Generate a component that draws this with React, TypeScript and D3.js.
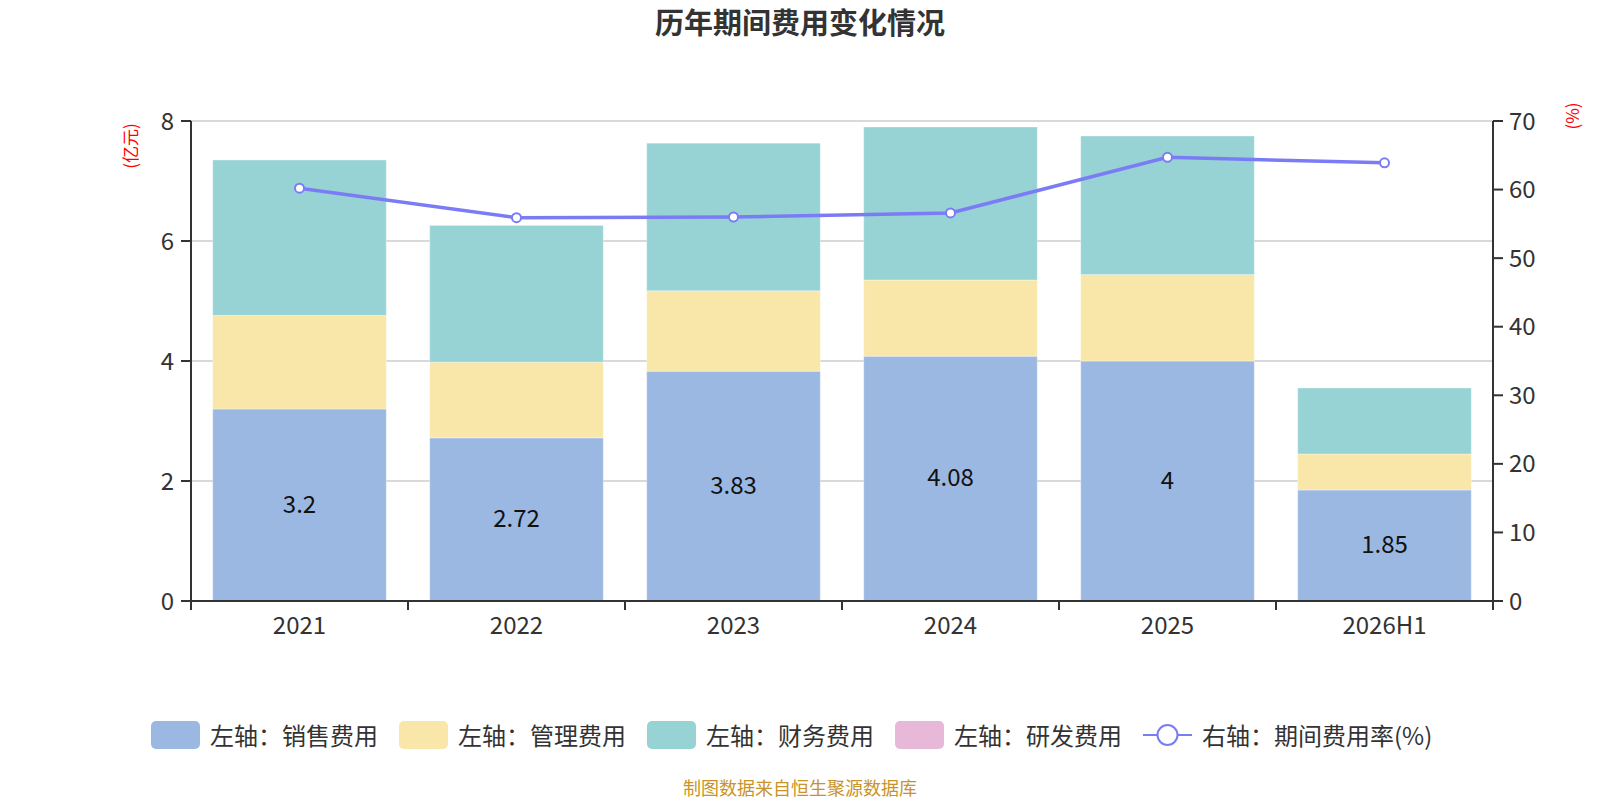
import React, { useEffect, useRef } from "react";
import * as d3 from "d3";

// categories and series
const years = ["2021", "2022", "2023", "2024", "2025", "2026H1"];
const salesCost = [3.2, 2.72, 3.83, 4.08, 4.0, 1.85];
const adminCost = [1.56, 1.26, 1.34, 1.27, 1.44, 0.6];
const financeCost = [2.59, 2.28, 2.46, 2.55, 2.31, 1.1];
const rdCost = [0, 0, 0, 0, 0, 0];
const expenseRate = [60.2, 55.9, 56.0, 56.6, 64.7, 63.9];

const leftTicks = [0, 2, 4, 6, 8];
const rightTicks = [0, 10, 20, 30, 40, 50, 60, 70];

const seriesNames = ["左轴：销售费用", "左轴：管理费用", "左轴：财务费用", "左轴：研发费用"];
const lineName = "右轴：期间费用率(%)";

const colors = ["#9bb8e2", "#f8e7a9", "#97d3d4", "#e8b8d8"];
const lineColor = "#7b7cf5";
const font = "'Noto Sans CJK SC', 'Noto Sans', sans-serif";

const App: React.FC = () => {
  const svgRef = useRef<SVGSVGElement>(null);

  useEffect(() => {
    const width = 1600;
    const height = 800;
    const left = 191;
    const right = 1493;
    const top = 121;
    const bottom = 601;

    const svg = d3.select(svgRef.current).attr("width", width).attr("height", height);
    svg.selectAll("*").remove();

    const x = d3.scaleBand<string>().domain(years).range([left, right]).paddingInner(0.2).paddingOuter(0.1);
    const xTick = d3.scaleBand<string>().domain(years).range([left, right]);
    const yL = d3.scaleLinear().domain([0, 8]).range([bottom, top]);
    const yR = d3.scaleLinear().domain([0, 70]).range([bottom, top]);

    // titulo
    svg
      .append("text")
      .attr("x", width / 2)
      .attr("y", 34)
      .attr("text-anchor", "middle")
      .style("font-family", font)
      .style("font-size", "29px")
      .style("font-weight", "bold")
      .style("fill", "#333")
      .text("历年期间费用变化情况");

    // grid
    svg
      .append("g")
      .selectAll("line")
      .data(leftTicks.slice(1))
      .enter()
      .append("line")
      .attr("x1", left)
      .attr("x2", right)
      .attr("y1", (d) => yL(d))
      .attr("y2", (d) => yL(d))
      .attr("stroke", "#cccccc")
      .attr("stroke-width", 1.5);

    // stacked bars
    const rows = years.map((yr, i) => ({
      year: yr,
      s0: salesCost[i],
      s1: adminCost[i],
      s2: financeCost[i],
      s3: rdCost[i],
    }));
    const stack = d3.stack<any>().keys(["s0", "s1", "s2", "s3"]);
    const layers = stack(rows);

    svg
      .append("g")
      .selectAll("g")
      .data(layers)
      .enter()
      .append("g")
      .attr("fill", (_d, i) => colors[i])
      .selectAll("rect")
      .data((d) => d)
      .enter()
      .filter((d) => d[1] - d[0] > 0)
      .append("rect")
      .attr("x", (d: any) => x(d.data.year)!)
      .attr("width", x.bandwidth())
      .attr("y", (d) => yL(d[1]))
      .attr("height", (d) => yL(d[0]) - yL(d[1]))
      .attr("stroke", "rgba(255,255,255,0.35)")
      .attr("stroke-width", 1);

    // sales labels
    svg
      .append("g")
      .selectAll("text")
      .data(years)
      .enter()
      .append("text")
      .attr("x", (d) => x(d)! + x.bandwidth() / 2)
      .attr("y", (_d, i) => yL(salesCost[i] / 2) - 3)
      .attr("text-anchor", "middle")
      .attr("dominant-baseline", "central")
      .style("font-family", font)
      .style("font-size", "24px")
      .style("fill", "#111")
      .text((_d, i) => String(salesCost[i]));

    // axes
    const axisG = svg.append("g").attr("stroke", "#333").attr("stroke-width", 2);
    axisG.append("line").attr("x1", left).attr("x2", left).attr("y1", top).attr("y2", bottom + 9);
    axisG.append("line").attr("x1", right).attr("x2", right).attr("y1", top).attr("y2", bottom + 9);
    axisG.append("line").attr("x1", left - 10).attr("x2", right + 10).attr("y1", bottom).attr("y2", bottom);

    leftTicks.forEach((t) => {
      axisG.append("line").attr("x1", left - 10).attr("x2", left).attr("y1", yL(t)).attr("y2", yL(t));
    });
    rightTicks.forEach((t) => {
      axisG.append("line").attr("x1", right).attr("x2", right + 10).attr("y1", yR(t)).attr("y2", yR(t));
    });
    years.forEach((yr) => {
      const xv = xTick(yr)!;
      axisG.append("line").attr("x1", xv).attr("x2", xv).attr("y1", bottom).attr("y2", bottom + 9);
    });

    const labelStyle = (sel: any) =>
      sel.style("font-family", font).style("font-size", "24px").style("fill", "#333");

    svg
      .append("g")
      .selectAll("text")
      .data(leftTicks)
      .enter()
      .append("text")
      .attr("x", left - 17)
      .attr("y", (d) => yL(d) - 2)
      .attr("text-anchor", "end")
      .attr("dominant-baseline", "central")
      .call(labelStyle)
      .text((d) => String(d));

    svg
      .append("g")
      .selectAll("text")
      .data(rightTicks)
      .enter()
      .append("text")
      .attr("x", right + 16)
      .attr("y", (d) => yR(d) - 2)
      .attr("text-anchor", "start")
      .attr("dominant-baseline", "central")
      .call(labelStyle)
      .text((d) => String(d));

    svg
      .append("g")
      .selectAll("text")
      .data(years)
      .enter()
      .append("text")
      .attr("x", (d) => x(d)! + x.bandwidth() / 2)
      .attr("y", bottom + 33)
      .attr("text-anchor", "middle")
      .call(labelStyle)
      .text((d) => d);

    // axis names
    svg
      .append("text")
      .attr("transform", "translate(129,146) rotate(-90)")
      .attr("text-anchor", "middle")
      .attr("dominant-baseline", "central")
      .style("font-family", font)
      .style("font-size", "17px")
      .style("fill", "#ff0000")
      .text("(亿元)");
    svg
      .append("text")
      .attr("transform", "translate(1571,116) rotate(-90)")
      .attr("text-anchor", "middle")
      .attr("dominant-baseline", "central")
      .style("font-family", font)
      .style("font-size", "17px")
      .style("fill", "#ff0000")
      .text("(%)");

    // line
    const line = d3
      .line<number>()
      .x((_d, i) => x(years[i])! + x.bandwidth() / 2)
      .y((d) => yR(d));

    svg
      .append("path")
      .datum(expenseRate)
      .attr("d", line)
      .attr("fill", "none")
      .attr("stroke", lineColor)
      .attr("stroke-width", 3.5);

    svg
      .append("g")
      .selectAll("circle")
      .data(expenseRate)
      .enter()
      .append("circle")
      .attr("cx", (_d, i) => x(years[i])! + x.bandwidth() / 2)
      .attr("cy", (d) => yR(d))
      .attr("r", 4.5)
      .attr("fill", "#fff")
      .attr("stroke", lineColor)
      .attr("stroke-width", 2);

    // legend
    const legendY = 735;
    const legend = svg.append("g");
    seriesNames.forEach((name, i) => {
      const x0 = 151 + i * 248;
      legend
        .append("rect")
        .attr("x", x0)
        .attr("y", legendY - 14)
        .attr("width", 49)
        .attr("height", 28)
        .attr("rx", 5)
        .attr("fill", colors[i]);
      legend
        .append("text")
        .attr("x", x0 + 59)
        .attr("y", legendY - 1)
        .attr("dominant-baseline", "central")
        .style("font-family", font)
        .style("font-size", "24px")
        .style("fill", "#333")
        .text(name);
    });
    const lx = 151 + 4 * 248;
    legend
      .append("line")
      .attr("x1", lx)
      .attr("x2", lx + 49)
      .attr("y1", legendY)
      .attr("y2", legendY)
      .attr("stroke", lineColor)
      .attr("stroke-width", 2);
    legend
      .append("circle")
      .attr("cx", lx + 24.5)
      .attr("cy", legendY)
      .attr("r", 10)
      .attr("fill", "#fff")
      .attr("stroke", lineColor)
      .attr("stroke-width", 2);
    legend
      .append("text")
      .attr("x", lx + 59)
      .attr("y", legendY - 1)
      .attr("dominant-baseline", "central")
      .style("font-family", font)
      .style("font-size", "24px")
      .style("fill", "#333")
      .text(lineName);

    // fuente
    svg
      .append("text")
      .attr("x", width / 2)
      .attr("y", 795)
      .attr("text-anchor", "middle")
      .style("font-family", font)
      .style("font-size", "18px")
      .style("fill", "#c9932a")
      .text("制图数据来自恒生聚源数据库");
  }, []);

  return (
    <svg
      ref={svgRef}
      style={{ position: "absolute", left: 0, top: 0, display: "block", background: "#fff" }}
    ></svg>
  );
};

export default App;
